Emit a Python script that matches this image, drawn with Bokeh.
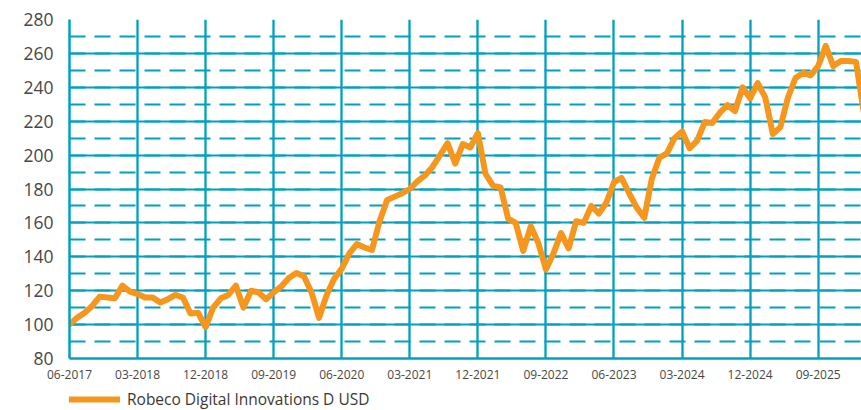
from bokeh.plotting import figure
from bokeh.layouts import column
from bokeh.models import FixedTicker, Legend, LegendItem, ColumnDataSource
from bokeh.embed import file_html
from bokeh.resources import INLINE

# ---- data (monthly index values, starting 06-2017) ----
series_name = "Robeco Digital Innovations D USD"
values = [
    100, 104, 107, 111, 116.5, 116, 115.5, 123, 119.5, 118,
    116, 116, 113, 115, 117.5, 116, 106.5, 107, 98.5, 110,
    115.5, 117.5, 123, 110, 120, 119, 115, 119, 122.5, 127.5,
    130.5, 128.5, 119, 104, 117.5, 127, 133, 142, 147.5, 145.5,
    144, 161, 173.5, 175.5, 177.5, 180, 184.5, 188, 193, 200,
    207, 195, 206.5, 204.5, 213, 189, 182, 181, 162.5, 160,
    143.5, 158, 148, 132.5, 142, 154, 145, 161, 160, 170,
    165.5, 172, 184, 186.5, 177.5, 169, 163, 186, 198.5, 201,
    210, 214, 204, 208.5, 219.5, 219, 225, 229.5, 226, 240,
    233.5, 242.5, 234, 212.5, 216.5, 234, 245.5, 248.5, 247, 252.5,
    264.5, 252.5, 255.5, 255.5, 255, 226,
]
tick_labels = ["06-2017", "03-2018", "12-2018", "09-2019", "06-2020", "03-2021",
               "12-2021", "09-2022", "06-2023", "03-2024", "12-2024", "09-2025"]
tick_step_months = 9
y_major = [80, 100, 120, 140, 160, 180, 200, 220, 240, 260, 280]
y_minor = [90, 110, 130, 150, 170, 190, 210, 230, 250, 270]

TEAL = "#00A0C1"
ORANGE = "#F7961C"
TXT = "#474747"
FONT = "Open Sans"

months = list(range(len(values)))
x_ticks = [i * tick_step_months for i in range(len(tick_labels))]
src = ColumnDataSource(data=dict(m=months, v=values))

p = figure(frame_width=792, frame_height=339,
           x_range=(0, 104.73), y_range=(80, 280),
           output_backend="svg", toolbar_location=None,
           min_border_left=69, min_border_right=0, min_border_top=19,
           min_border_bottom=30)
p.outline_line_color = None
p.background_fill_color = "white"
p.border_fill_color = "white"

# y axis / grid
yt = FixedTicker(ticks=y_major, minor_ticks=y_major + y_minor)
p.yaxis.ticker = yt
p.ygrid.ticker = yt
p.ygrid.grid_line_color = TEAL
p.ygrid.grid_line_width = 2
p.ygrid.minor_grid_line_color = TEAL
p.ygrid.minor_grid_line_width = 2
p.ygrid.minor_grid_line_dash = "16 9"

# x axis / grid
xt = FixedTicker(ticks=x_ticks)
p.xaxis.ticker = xt
p.xgrid.ticker = xt
p.xgrid.grid_line_color = TEAL
p.xgrid.grid_line_width = 2.3
p.xaxis.major_label_overrides = {t: lab for t, lab in zip(x_ticks, tick_labels)}

for ax in (p.xaxis, p.yaxis):
    ax.axis_line_color = TEAL
    ax.axis_line_width = 2.5
    ax.major_tick_line_color = None
    ax.minor_tick_line_color = None
    ax.major_tick_out = 0
    ax.major_tick_in = 0
    ax.minor_tick_out = 0
    ax.minor_tick_in = 0
    ax.major_label_text_font = FONT
    ax.major_label_text_color = TXT

p.yaxis.major_label_text_font_size = "17.5px"
p.yaxis.major_label_standoff = 16
p.xaxis.major_label_text_font_size = "12px"
p.xaxis.major_label_standoff = 11

p.line("m", "v", source=src, line_color=ORANGE, line_width=6,
       line_join="round", line_cap="round")

# ---- legend strip below the chart ----
lg = figure(width=861, height=22, x_range=(0, 1), y_range=(0, 1),
            x_axis_type=None, y_axis_type=None,
            output_backend="svg", toolbar_location=None,
            min_border_left=69, min_border_right=0, min_border_top=0,
            min_border_bottom=0)
lg.outline_line_color = None
lg.grid.visible = False
# same series; its values fall outside this strip's range, only the key shows
r_key = lg.line("m", "v", source=src, line_color=ORANGE, line_width=6,
                line_cap="round")
legend = Legend(items=[LegendItem(label=series_name, renderers=[r_key])],
                location="top_left", orientation="horizontal",
                margin=0, padding=0, spacing=0,
                glyph_width=51, glyph_height=20, label_height=20,
                label_standoff=7,
                label_text_font=FONT, label_text_font_size="15.5px",
                label_text_color="#3b3833",
                border_line_alpha=0, background_fill_alpha=0)
lg.add_layout(legend, "center")

layout = column(p, lg, spacing=0)
open("out.html", "w").write(file_html(layout, INLINE))
